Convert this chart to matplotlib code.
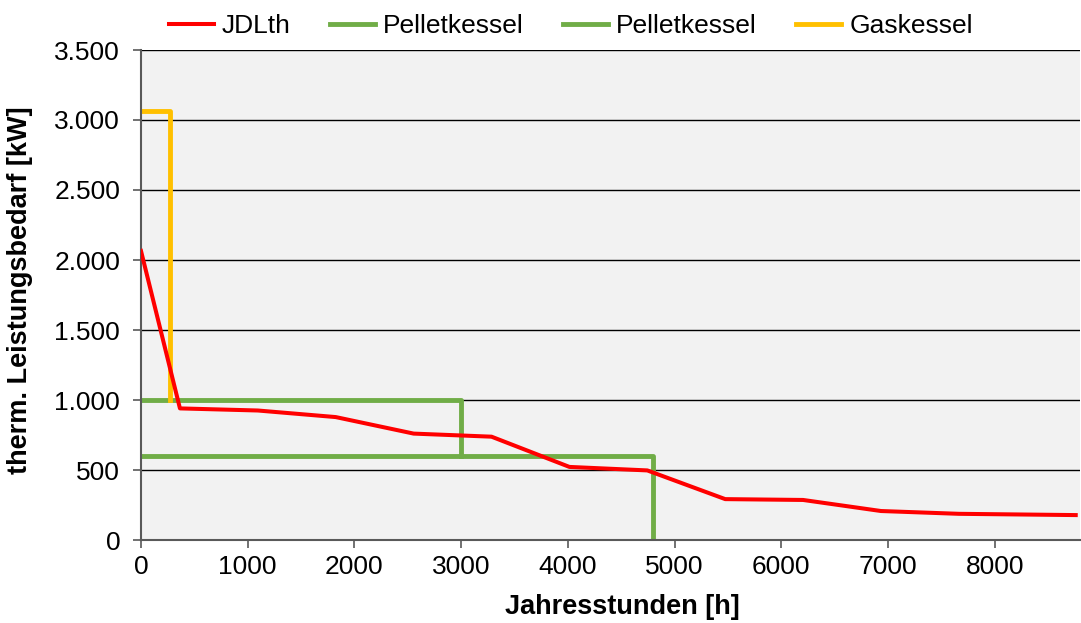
import matplotlib.pyplot as plt
from matplotlib.ticker import FuncFormatter, MultipleLocator

plt.rcParams['font.family'] = ['Liberation Sans', 'DejaVu Sans']

# Jahresdauerlinie
stunden = [0, 365, 1095, 1825, 2555, 3285, 4015, 4745, 5475, 6205, 6935, 7665, 8760]
leistung = [2065, 940, 925, 878, 760, 738, 522, 497, 292, 286, 207, 187, 178]

# Pelletkessel 1 / 2 and Gaskessel as step outlines
pellet1_x = [0, 3000, 3000]
pellet1_y = [1000, 1000, 600]
pellet2_x = [0, 4800, 4800]
pellet2_y = [600, 600, 0]
gas_x = [0, 275, 275]
gas_y = [3065, 3065, 1000]

fig = plt.figure(figsize=(10.81, 6.23), dpi=100)
ax = fig.add_axes([141/1081, 83/623, 939/1081, 490/623])
ax.set_facecolor('#f2f2f2')

ax.plot(stunden, leistung, color='#ff0000', lw=2.9, label='JDLth', zorder=3)
ax.plot(pellet1_x, pellet1_y, color='#70ad47', lw=3.5, label='Pelletkessel', zorder=2)
ax.plot(pellet2_x, pellet2_y, color='#70ad47', lw=3.5, label='Pelletkessel', zorder=2)
ax.plot(gas_x, gas_y, color='#ffc000', lw=3.5, label='Gaskessel', zorder=2)

ax.set_xlim(0, 8800)
ax.set_ylim(0, 3500)
ax.xaxis.set_major_locator(MultipleLocator(1000))
ax.yaxis.set_major_locator(MultipleLocator(500))
ax.yaxis.set_major_formatter(FuncFormatter(lambda v, p: f'{int(v):,}'.replace(',', '.')))
ax.grid(axis='y', color='black', lw=1)
ax.set_axisbelow(True)
for s in ['top', 'right']:
    ax.spines[s].set_visible(False)
for s in ['left', 'bottom']:
    ax.spines[s].set_color('#595959')
    ax.spines[s].set_linewidth(1.5)
ax.tick_params(labelsize=19, color='#595959', length=6, width=1.2)
ax.tick_params(axis='x', pad=5)
ax.tick_params(axis='y', pad=9, length=6)
ax.set_xlabel('Jahresstunden [h]', fontsize=19.5, fontweight='bold')
ax.xaxis.set_label_coords(0.513, -0.11)
ax.set_ylabel('therm. Leistungsbedarf [kW]', fontsize=19.5, fontweight='bold')
ax.yaxis.set_label_coords(-0.115, 0.51)

fig.legend(loc='upper center', bbox_to_anchor=(0.528, 1.015), ncol=4, frameon=False,
           fontsize=19, handlelength=1.7, handletextpad=0.3, columnspacing=1.5)

fig.savefig('out.png', dpi=100)
